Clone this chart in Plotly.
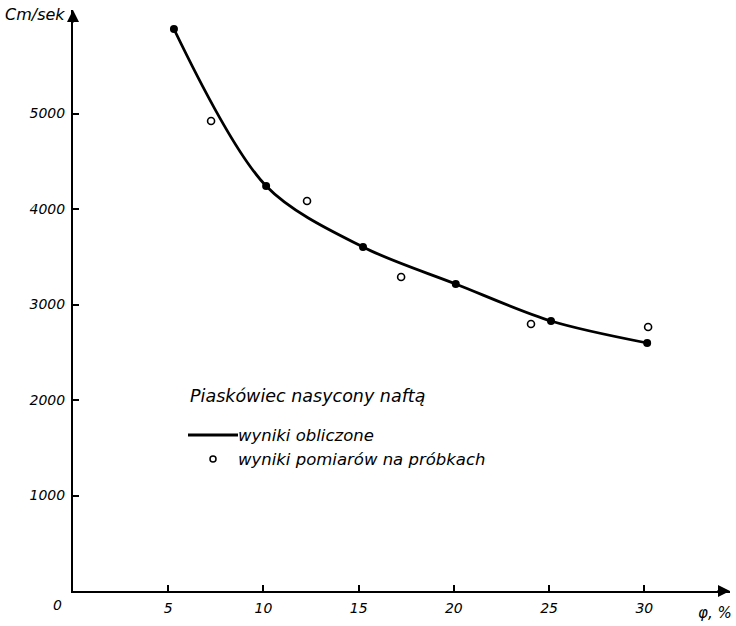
import plotly.graph_objects as go

# Data
calc_x = [5.3, 10.14, 15.23, 20.1, 25.1, 30.15]
calc_y = [5885, 4241, 3602, 3215, 2827, 2597]
meas_x = [7.25, 12.29, 17.23, 24.05, 30.2]
meas_y = [4921, 4084, 3288, 2796, 2764]
x_ticks = [5, 10, 15, 20, 25, 30]
y_ticks = [1000, 2000, 3000, 4000, 5000]

W, H = 736, 626
L, R, T, B = 73, 6, 10, 35
PW, PH = W - L - R, H - T - B


def px(x):
    return (x - L) / PW


def py(y):
    return (H - B - y) / PH


FONT = "DejaVu Sans"
fig = go.Figure()

fig.add_trace(go.Scatter(
    x=calc_x, y=calc_y, mode="lines",
    line=dict(color="black", width=2.8, shape="spline", smoothing=0.9),
    name="wyniki obliczone", showlegend=False, hoverinfo="skip"))
fig.add_trace(go.Scatter(
    x=calc_x, y=calc_y, mode="markers",
    marker=dict(color="black", size=8, symbol="circle"),
    name="obliczone (punkty)", showlegend=False, cliponaxis=False))
fig.add_trace(go.Scatter(
    x=meas_x, y=meas_y, mode="markers",
    marker=dict(color="white", size=7, symbol="circle",
                line=dict(color="black", width=1.6)),
    name="wyniki pomiarów na próbkach", showlegend=False, cliponaxis=False))

tickfont = dict(family=FONT, size=14, color="black", style="italic")

fig.update_xaxes(
    range=[0, 34.5], showline=True, linewidth=2, linecolor="black",
    ticks="inside", ticklen=6, tickwidth=1.5, tickcolor="black",
    tickvals=x_ticks, ticktext=[str(v) for v in x_ticks],
    tickfont=tickfont, showgrid=False, zeroline=False, ticklabelstandoff=3)
fig.update_yaxes(
    range=[0, 6084], showline=True, linewidth=2, linecolor="black",
    ticks="inside", ticklen=6, tickwidth=1.5, tickcolor="black",
    tickvals=y_ticks, ticktext=[str(v) for v in y_ticks],
    tickfont=tickfont, showgrid=False, zeroline=False, ticklabelstandoff=3)

ann = []
# axis arrows
ann.append(dict(x=1, y=0, xref="x domain", yref="y domain", ax=-14, ay=0,
                showarrow=True, arrowhead=2, arrowsize=1.2, arrowwidth=2,
                arrowcolor="black", text=""))
ann.append(dict(x=0, y=1, xref="x domain", yref="y domain", ax=0, ay=14,
                showarrow=True, arrowhead=2, arrowsize=1.2, arrowwidth=2,
                arrowcolor="black", text=""))
# axis labels
ann.append(dict(x=px(67), y=py(14), xref="paper", yref="paper", xanchor="right",
                yanchor="middle", showarrow=False, text="Cm/sek",
                font=dict(family=FONT, size=16, color="black", style="italic")))
ann.append(dict(x=px(734), y=py(613), xref="paper", yref="paper", xanchor="right",
                yanchor="middle", showarrow=False, text="φ, %",
                font=dict(family=FONT, size=15, color="black", style="italic")))
ann.append(dict(x=px(64), y=py(605), xref="paper", yref="paper", xanchor="right",
                yanchor="middle", showarrow=False, text="0",
                font=tickfont))
# legend block
tf = dict(family=FONT, size=17.5, color="black", style="italic")
lf = dict(family=FONT, size=16.5, color="black", style="italic")
ann.append(dict(x=px(188), y=py(396), xref="paper", yref="paper", xanchor="left",
                yanchor="middle", showarrow=False, text="Piaskówiec nasycony naftą",
                font=tf))
ann.append(dict(x=px(236), y=py(436), xref="paper", yref="paper", xanchor="left",
                yanchor="middle", showarrow=False, text="wyniki obliczone",
                font=lf))
ann.append(dict(x=px(236), y=py(459), xref="paper", yref="paper", xanchor="left",
                yanchor="middle", showarrow=False, text="wyniki pomiarów na próbkach",
                font=lf))

shapes = [
    dict(type="line", xref="paper", yref="paper", x0=px(188), x1=px(238),
         y0=py(435), y1=py(435), line=dict(color="black", width=2.8)),
    dict(type="circle", xref="paper", yref="paper", x0=px(210), x1=px(216),
         y0=py(462), y1=py(456), line=dict(color="black", width=1.5),
         fillcolor="white"),
]

fig.update_layout(
    width=W, height=H, margin=dict(l=L, r=R, t=T, b=B),
    paper_bgcolor="white", plot_bgcolor="white",
    annotations=ann, shapes=shapes, showlegend=False,
    font=dict(family=FONT, color="black"))

fig.write_html("out.html")
